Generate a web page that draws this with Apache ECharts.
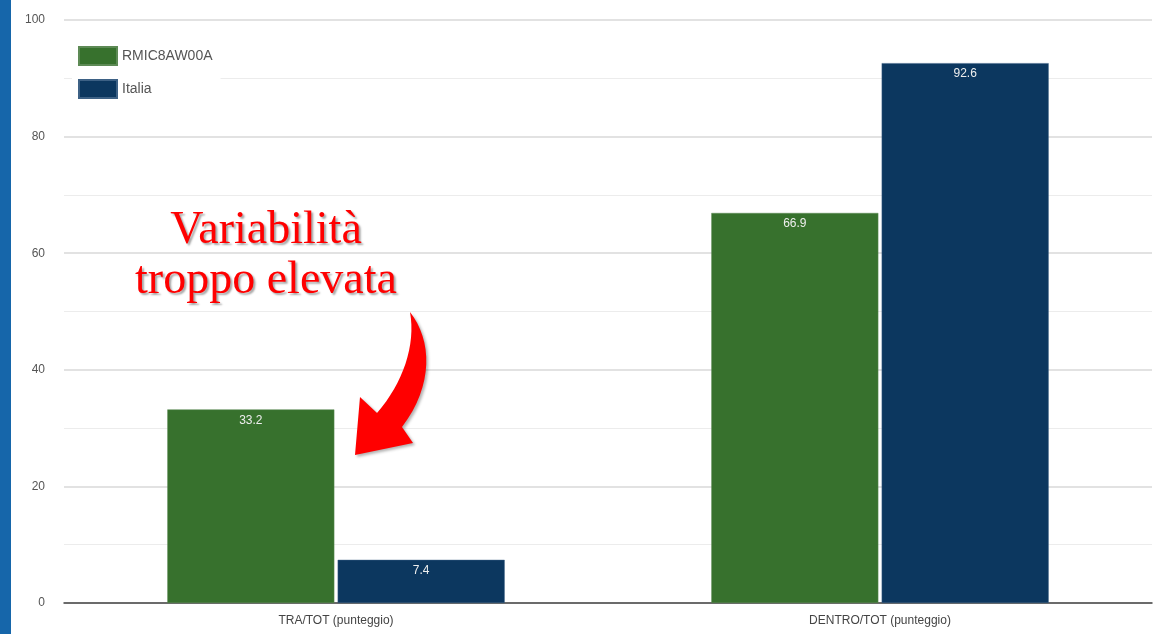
<!DOCTYPE html>
<html>
<head>
<meta charset="utf-8">
<script src="https://cdn.jsdelivr.net/npm/echarts@6/dist/echarts.min.js"></script>
<style>
  html, body { margin: 0; padding: 0; background: #fff; }
  #main { width: 1158px; height: 634px; }
</style>
</head>
<body>
<div id="main"></div>
<script>
// dati
var categories = ['TRA/TOT (punteggio)', 'DENTRO/TOT (punteggio)'];
var scuola = [33.2, 66.9];   // RMIC8AW00A
var italia = [7.4, 92.6];    // Italia
var seriesNames = ['RMIC8AW00A', 'Italia'];

var chart = echarts.init(document.getElementById('main'));

// campiona una curva di bezier cubica (per la freccia)
function bez(p0, p1, p2, p3, n) {
    var pts = [];
    for (var i = 0; i <= n; i++) {
        var t = i / n, u = 1 - t;
        pts.push([
            u*u*u*p0[0] + 3*u*u*t*p1[0] + 3*u*t*t*p2[0] + t*t*t*p3[0],
            u*u*u*p0[1] + 3*u*u*t*p1[1] + 3*u*t*t*p2[1] + t*t*t*p3[1]
        ]);
    }
    return pts;
}
var arrowPts = bez([410, 312], [432, 340], [434, 385], [402, 427], 16)
    .concat([[413, 443], [355, 455], [360, 397]])
    .concat(bez([377, 413], [403, 383], [416, 345], [410, 312], 16));

var labelStyle = {
    show: true,
    position: 'insideTop',
    distance: 5,
    color: '#eeeeee',
    fontSize: 12,
    fontFamily: 'Liberation Sans, Arial, sans-serif'
};

var option = {
    backgroundColor: '#fff',
    animation: false,
    grid: { left: 64, right: 6, top: 20, bottom: 31 },
    legend: {
        orient: 'vertical',
        left: 72,
        top: 40,
        padding: [6, 8, 6, 6],
        backgroundColor: '#fff',
        icon: 'rect',
        itemWidth: 38,
        itemHeight: 18,
        itemGap: 13,
        data: seriesNames,
        textStyle: { color: '#555', fontSize: 14, fontFamily: 'Liberation Sans, Arial, sans-serif' }
    },
    xAxis: {
        type: 'category',
        data: categories,
        axisTick: { show: false },
        axisLine: { lineStyle: { color: '#444', width: 1.5 } },
        axisLabel: { color: '#444', fontSize: 12, margin: 12, fontFamily: 'Liberation Sans, Arial, sans-serif' }
    },
    yAxis: {
        type: 'value',
        min: 0,
        max: 100,
        interval: 20,
        axisLine: { show: false },
        axisTick: { show: false },
        axisLabel: { color: '#555', fontSize: 12, margin: 19, fontFamily: 'Liberation Sans, Arial, sans-serif' },
        splitLine: { lineStyle: { color: '#d9d9d9', width: 1.5 } },
        minorTick: { show: false, splitNumber: 2 },
        minorSplitLine: { show: true, lineStyle: { color: '#ececec', width: 1 } }
    },
    series: [
        {
            name: seriesNames[0],
            type: 'bar',
            data: scuola,
            barWidth: '30.7%',
            barGap: '2%',
            itemStyle: { color: '#37712d', borderColor: '#5d8a55', borderWidth: 0.5 },
            label: labelStyle
        },
        {
            name: seriesNames[1],
            type: 'bar',
            data: italia,
            barWidth: '30.7%',
            itemStyle: { color: '#0c375f', borderColor: '#3d6185', borderWidth: 0.5 },
            label: labelStyle
        }
    ],
    graphic: [
        // bordo blu a sinistra
        { type: 'rect', left: 0, top: 0, shape: { width: 11, height: 634 }, style: { fill: '#1666aa' }, z: 100 },
        // annotazione
        {
            type: 'text',
            style: {
                x: 266, y: 256,
                text: 'Variabilità\ntroppo elevata',
                fill: '#ff0000',
                fontFamily: '"Liberation Serif", "DejaVu Serif", serif',
                fontSize: 46,
                fontStyle: 'normal',
                fontWeight: 'normal',
                lineHeight: 50,
                align: 'center',
                verticalAlign: 'middle',
                textShadowColor: 'rgba(0,0,0,0.35)',
                textShadowBlur: 2,
                textShadowOffsetX: 2,
                textShadowOffsetY: 2
            },
            z: 100
        },
        {
            type: 'polygon',
            shape: { points: arrowPts },
            style: {
                fill: '#ff0000',
                shadowColor: 'rgba(0,0,0,0.3)',
                shadowBlur: 3,
                shadowOffsetX: 2,
                shadowOffsetY: 2
            },
            z: 100
        }
    ]
};

chart.setOption(option);
</script>
</body>
</html>
